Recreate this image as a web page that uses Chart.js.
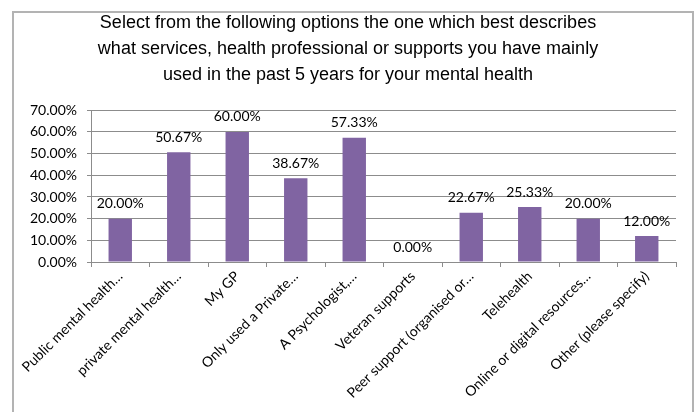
<!DOCTYPE html>
<html>
<head>
<meta charset="utf-8">
<script src="https://cdn.jsdelivr.net/npm/chart.js@4.4.1/dist/chart.umd.min.js"></script>
<style>
  html, body { margin: 0; padding: 0; background: #fff; }
  #wrap { position: relative; width: 697px; height: 412px; }
</style>
</head>
<body>
<div id="wrap"><canvas id="servicesChart"></canvas></div>
<script>
const titleLines = [
  'Select from the following options the one which best describes',
  'what services, health professional or supports you have mainly',
  'used in the past 5 years for your mental health'
];
const categories = [
  'Public mental health…',
  'private mental health…',
  'My GP',
  'Only used a Private…',
  'A Psychologist,…',
  'Veteran supports',
  'Peer support (organised or…',
  'Telehealth',
  'Online or digital resources…',
  'Other (please specify)'
];
const percentages = [20.00, 50.67, 60.00, 38.67, 57.33, 0.00, 22.67, 25.33, 20.00, 12.00];
const yTicks = [0, 10, 20, 30, 40, 50, 60, 70];

const labelFont = { family: 'Lato', size: 14 };
const gridGrey = '#8c8c8c';

// frame round the whole chart, like the box of an office chart
const framePlugin = {
  id: 'frame',
  beforeDraw(chart) {
    const ctx = chart.ctx;
    ctx.save();
    ctx.strokeStyle = '#b3b3b3';
    ctx.lineWidth = 2;
    ctx.strokeRect(13, 12, 680, 420);
    ctx.restore();
  }
};

// value text above each bar
const valueLabels = {
  id: 'valueLabels',
  afterDatasetsDraw(chart) {
    const ctx = chart.ctx;
    const meta = chart.getDatasetMeta(0);
    ctx.save();
    ctx.font = labelFont.size + 'px ' + labelFont.family;
    ctx.fillStyle = '#000';
    ctx.textAlign = 'center';
    ctx.textBaseline = 'middle';
    meta.data.forEach((bar, i) => {
      ctx.fillText(percentages[i].toFixed(2) + '%', bar.x, bar.y - 15);
    });
    ctx.restore();
  }
};

new Chart(document.getElementById('servicesChart'), {
  type: 'bar',
  data: {
    labels: categories,
    datasets: [{
      data: percentages,
      backgroundColor: '#8064A2',
      borderWidth: 0,
      barPercentage: 0.4,
      categoryPercentage: 1.0
    }]
  },
  options: {
    responsive: true,
    maintainAspectRatio: false,
    animation: false,
    events: [],
    layout: {
      padding: { left: 20, right: 21, top: 0, bottom: 0 }
    },
    plugins: {
      legend: { display: false },
      tooltip: { enabled: false },
      title: {
        display: true,
        text: titleLines,
        color: '#000',
        font: { family: 'Liberation Sans', size: 18, weight: 'normal', lineHeight: 1.45 },
        padding: { top: 10, bottom: 22 }
      }
    },
    scales: {
      x: {
        offset: true,
        grid: {
          display: true,
          offset: true,
          drawOnChartArea: false,
          drawTicks: true,
          tickLength: 5,
          color: gridGrey
        },
        border: { color: gridGrey, width: 1 },
        ticks: {
          autoSkip: false,
          minRotation: 45,
          maxRotation: 45,
          padding: 1,
          color: '#000',
          font: labelFont
        },
        afterFit(scale) { scale.height = 150; }
      },
      y: {
        min: 0,
        max: 70,
        afterBuildTicks(scale) {
          scale.ticks = yTicks.map(v => ({ value: v }));
        },
        grid: {
          color: gridGrey,
          tickLength: 4
        },
        border: { color: gridGrey, width: 1 },
        ticks: {
          padding: 10,
          color: '#000',
          font: labelFont,
          callback: v => v.toFixed(2) + '%'
        },
        afterFit(scale) { scale.width = 71; }
      }
    }
  },
  plugins: [framePlugin, valueLabels]
});
</script>
</body>
</html>
